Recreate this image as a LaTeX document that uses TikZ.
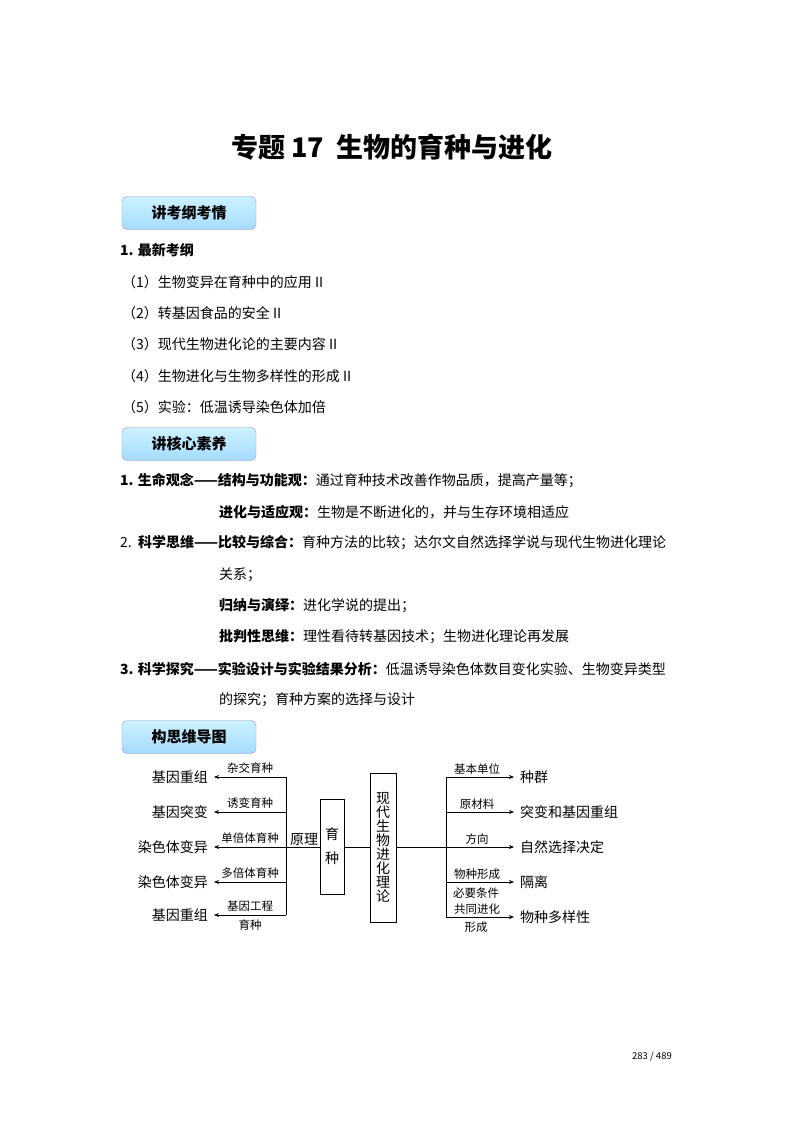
\documentclass[tikz,border=0pt]{standalone}
\usepackage{fontspec}
\setmainfont{Noto Sans CJK SC}
\usetikzlibrary{arrows.meta}
\begin{document}
\begin{tikzpicture}[x=1pt,y=-1pt,
  hdr/.style={draw=blue!45!gray!60,rounded corners=5pt,top color=blue!25!cyan!20,bottom color=blue!40!cyan!35,minimum width=134pt,minimum height=33pt,font=\bfseries\fontsize{15}{15}\selectfont},
  txt/.style={anchor=west,font=\fontsize{14}{14}\selectfont,inner sep=0pt},
  sm/.style={font=\fontsize{11.5}{12}\selectfont,inner sep=0pt},
  big/.style={font=\fontsize{14}{14}\selectfont,inner sep=0pt},
  arr/.style={-{Stealth[length=5pt,width=4pt]},line width=0.6pt,shorten >=6pt},
  ln/.style={line width=0.6pt}]
\useasboundingbox (0,0) rectangle (800,1132);
\node[inner sep=0pt,font=\bfseries\fontsize{27}{27}\selectfont] (title) at (392,147) {专题 17\ \ 生物的育种与进化};
\node[hdr] (h1) at (189,213) {讲考纲考情};
\node[txt,font=\bfseries\fontsize{14}{14}\selectfont] (t1) at (120,250) {1. 最新考纲};
\node[txt] (t2) at (122,282) {（1）生物变异在育种中的应用 II};
\node[txt] (t3) at (122,313) {（2）转基因食品的安全 II};
\node[txt] (t4) at (122,344) {（3）现代生物进化论的主要内容 II};
\node[txt] (t5) at (122,376) {（4）生物进化与生物多样性的形成 II};
\node[txt] (t6) at (122,407) {（5）实验：低温诱导染色体加倍};
\node[hdr] (h2) at (189,444) {讲核心素养};
\node[txt] (c1) at (120,481) {\textbf{1. 生命观念——结构与功能观：}通过育种技术改善作物品质，提高产量等；};
\node[txt] (c2) at (219,512) {\textbf{进化与适应观：}生物是不断进化的，并与生存环境相适应};
\node[txt] (c3) at (120,543) {2.\ \ \textbf{科学思维——比较与综合：}育种方法的比较；达尔文自然选择学说与现代生物进化理论};
\node[txt] (c4) at (219,575) {关系；};
\node[txt] (c5) at (219,606) {\textbf{归纳与演绎：}进化学说的提出；};
\node[txt] (c6) at (219,637) {\textbf{批判性思维：}理性看待转基因技术；生物进化理论再发展};
\node[txt] (c7) at (120,669) {\textbf{3. 科学探究——实验设计与实验结果分析：}低温诱导染色体数目变化实验、生物变异类型};
\node[txt] (c8) at (219,700) {的探究；育种方案的选择与设计};
\node[hdr] (h3) at (189,737) {构思维导图};
% mind map
\draw[ln] (286,777) -- (286,915);
\draw[ln] (446,777) -- (446,917);
\node[draw,ln,minimum width=24pt,minimum height=95pt,inner sep=0pt] (yz) at (332,846.5) {};
\node[big,align=center] at (332,846.5) {育\\[10pt]种};
\node[draw,ln,minimum width=26pt,minimum height=149pt,inner sep=0pt] (xd) at (383,847.5) {};
\node[big,align=center] at (383,847.5) {现\\[0pt]代\\[0pt]生\\[0pt]物\\[0pt]进\\[0pt]化\\[0pt]理\\[0pt]论};
\coordinate (lj) at (286,847);
\coordinate (rj) at (446,847);
\draw[ln] (lj) -- (yz.west |- lj);
\draw[ln] (yz.east |- lj) -- (xd.west |- lj);
\draw[ln] (xd.east |- rj) -- (rj);
\node[big] (yl) at (304,839) {原理};
\foreach \y/\lab/\tgt [count=\i] in {777/杂交育种/基因重组,812/诱变育种/基因突变,847/单倍体育种/染色体变异,882/多倍体育种/染色体变异,915/基因工程/基因重组}{
  \coordinate (L\i) at (286,\y);
  \node[big,anchor=east] (T\i) at (208,\y) {\tgt};
  \draw[arr] (L\i) -- (T\i.east);
  \node[sm] at (250,\y-9) {\lab};
}
\node[sm] (yz2) at (250,925) {育种};
\foreach \y/\lab/\tgt [count=\i] in {777/基本单位/种群,812/原材料/突变和基因重组,847/方向/自然选择决定,882/物种形成/隔离,917/共同进化/物种多样性}{
  \coordinate (R\i) at (446,\y);
  \node[big,anchor=west] (S\i) at (520,\y) {\tgt};
  \draw[arr] (R\i) -- (S\i.west);
  \node[sm] at (477,\y-8) {\lab};
}
\node[sm] (bx) at (476,893) {必要条件};
\node[sm] (xc) at (476,927) {形成};
\node[font=\fontsize{9.5}{10}\selectfont] (pg) at (652,1057) {283 / 489};
\end{tikzpicture}
\end{document}
